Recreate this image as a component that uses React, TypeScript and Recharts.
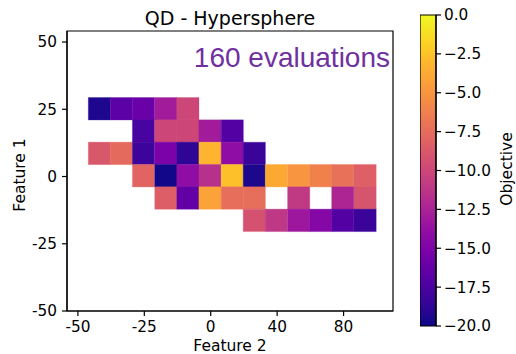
import React from 'react';
import { ComposedChart, XAxis, YAxis, ReferenceArea, Scatter } from 'recharts';

// Feature 2 (x) bin centres and Feature 1 (y) bin centres
const feature2Centers = [-41.9, -33.6, -25.3, -16.9, -8.6, -0.3, 8.1, 16.4, 24.7, 33.1, 41.4, 49.7, 58.1];
const feature1Centers = [25.2, 16.9, 8.6, 0.3, -8.0, -16.3];
const binSize = 8.35;

// Objective values per row (top to bottom); null = empty cell
const row0 = [-19.4, -16.7, -16.0, -13.0, -10.0, null, null, null, null, null, null, null, null];
const row1 = [null, null, -17.6, -10.0, -10.0, -13.0, -17.1, null, null, null, null, null, null];
const row2 = [-8.8, -7.6, -18.2, -15.2, -18.8, -3.2, -14.0, -18.3, null, null, null, null, null];
const row3 = [null, null, -8.0, -19.8, -14.0, -11.6, -2.6, -19.5, -3.8, -5.0, -6.2, -7.2, -8.3];
const row4 = [null, null, null, -8.4, -16.4, -4.2, -7.4, -7.4, null, -10.9, null, -12.3, -9.1];
const row5 = [null, null, null, null, null, null, null, -9.2, -11.1, -13.3, -14.6, -17.1, -18.3];
const objectiveRows = [row0, row1, row2, row3, row4, row5];

const xDomain = [-54.1, 68.6];
const yDomain = [-50, 54.1];
const xTicks = [-50, -25, 0, 25, 50];
const xTickLabels = ['-50', '-25', '0', '40', '80'];
const yTicks = [-50, -25, 0, 25, 50];
const cbTicks = [-20, -17.5, -15, -12.5, -10, -7.5, -5, -2.5, 0];

const PLASMA = [
  '#0d0887', '#2a0593', '#41049d', '#5601a4', '#6a00a8', '#7e03a8', '#8f0da4',
  '#a11b9b', '#b12a90', '#bf3984', '#cc4778', '#d6556d', '#e16462', '#ea7457',
  '#f2844b', '#f89540', '#fca636', '#feb72d', '#fcce25', '#f7e225', '#f0f921',
];

function hexToRgb(h: string) {
  return [parseInt(h.slice(1, 3), 16), parseInt(h.slice(3, 5), 16), parseInt(h.slice(5, 7), 16)];
}

function plasma(t: number) {
  const tt = Math.max(0, Math.min(1, t)) * (PLASMA.length - 1);
  const i = Math.min(PLASMA.length - 2, Math.floor(tt));
  const f = tt - i;
  const a = hexToRgb(PLASMA[i]);
  const b = hexToRgb(PLASMA[i + 1]);
  const c = a.map((v, k) => Math.round(v + (b[k] - v) * f));
  return `rgb(${c[0]},${c[1]},${c[2]})`;
}

const vmin = -20;
const vmax = 0;
const colorFor = (v: number) => plasma((v - vmin) / (vmax - vmin));

const cells: { x: number; y: number; v: number }[] = [];
objectiveRows.forEach((row, r) => {
  row.forEach((v, c) => {
    if (v !== null) cells.push({ x: feature2Centers[c], y: feature1Centers[r], v: v as number });
  });
});

const tickStyle = { fontFamily: 'DejaVu Sans', fontSize: 15.3, fill: '#000' };
const fmtMinus = (v: number) => v.toFixed(1).replace('-', '\u2212');

export default function App() {
  return (
    <div style={{ position: 'absolute', left: 0, top: 0, width: 516, height: 354, background: '#fff' }}>
      <div style={{ position: 'absolute', left: 0, top: 0 }}>
        <ComposedChart width={516} height={354} margin={{ top: 31, right: 123, bottom: 0, left: 0 }}>
          <XAxis
            type="number"
            dataKey="x"
            domain={xDomain}
            allowDataOverflow
            ticks={xTicks}
            tickFormatter={(v: number) => xTickLabels[xTicks.indexOf(v)] ?? String(v)}
            height={43}
            tick={tickStyle}
            tickSize={5}
            tickMargin={5}
            axisLine={{ stroke: '#000', strokeWidth: 1.2 }}
            tickLine={{ stroke: '#000', strokeWidth: 1.2 }}
          />
          <YAxis
            type="number"
            dataKey="y"
            domain={yDomain}
            allowDataOverflow
            ticks={yTicks}
            width={67}
            tick={tickStyle}
            tickSize={5}
            tickMargin={5}
            axisLine={{ stroke: '#000', strokeWidth: 1.2 }}
            tickLine={{ stroke: '#000', strokeWidth: 1.2 }}
          />
          {cells.map((c, i) => (
            <ReferenceArea
              key={i}
              x1={c.x - binSize / 2}
              x2={c.x + binSize / 2}
              y1={c.y - binSize / 2}
              y2={c.y + binSize / 2}
              fill={colorFor(c.v)}
              fillOpacity={1}
              stroke={colorFor(c.v)}
              strokeWidth={0.3}
              ifOverflow="visible"
            />
          ))}
          <ReferenceArea
            x1={xDomain[0]}
            x2={xDomain[1]}
            y1={yDomain[0]}
            y2={yDomain[1]}
            fill="none"
            fillOpacity={0}
            stroke="#000"
            strokeWidth={1.2}
            ifOverflow="visible"
          />
          <Scatter data={cells} isAnimationActive={false} shape={() => <g />} />
        </ComposedChart>
      </div>
      <div style={{ position: 'absolute', left: 420, top: 0 }}>
        <ComposedChart width={96} height={354} margin={{ top: 15, right: 0, bottom: 28, left: 0 }}>
          <defs>
            <linearGradient id="plasmaGrad" x1="0" y1="0" x2="0" y2="1">
              {PLASMA.map((c, i) => (
                <stop key={i} offset={`${(i / (PLASMA.length - 1)) * 100}%`} stopColor={PLASMA[PLASMA.length - 1 - i]} />
              ))}
            </linearGradient>
          </defs>
          <XAxis type="number" dataKey="x" domain={[0, 1]} hide />
          <YAxis
            orientation="right"
            type="number"
            dataKey="y"
            domain={[-20, 0]}
            ticks={cbTicks}
            width={80}
            tick={tickStyle}
            tickSize={5}
            tickMargin={3}
            tickFormatter={fmtMinus}
            axisLine={{ stroke: '#000', strokeWidth: 1.2 }}
            tickLine={{ stroke: '#000', strokeWidth: 1.2 }}
          />
          <ReferenceArea x1={0} x2={1} y1={-20} y2={0} fill="url(#plasmaGrad)" fillOpacity={1} stroke="#000" strokeWidth={1.2} />
          <Scatter data={[{ x: 0.5, y: -10 }]} isAnimationActive={false} shape={() => <g />} />
        </ComposedChart>
      </div>
      <svg width={516} height={354} style={{ position: 'absolute', left: 0, top: 0, pointerEvents: 'none' }}>
        <text x={230} y={25} textAnchor="middle" fontFamily="DejaVu Sans" fontSize={19} fill="#000">QD - Hypersphere</text>
        <text x={390} y={67} textAnchor="end" fontFamily="Liberation Sans" fontSize={28} fill="#7030A0">160 evaluations</text>
        <text x={230} y={351} textAnchor="middle" fontFamily="DejaVu Sans" fontSize={15.5} fill="#000">Feature 2</text>
        <text transform="translate(25,175) rotate(-90)" textAnchor="middle" fontFamily="DejaVu Sans" fontSize={15.5} fill="#000">Feature 1</text>
        <text transform="translate(512,169) rotate(-90)" textAnchor="middle" fontFamily="DejaVu Sans" fontSize={15.5} fill="#000">Objective</text>
      </svg>
    </div>
  );
}
